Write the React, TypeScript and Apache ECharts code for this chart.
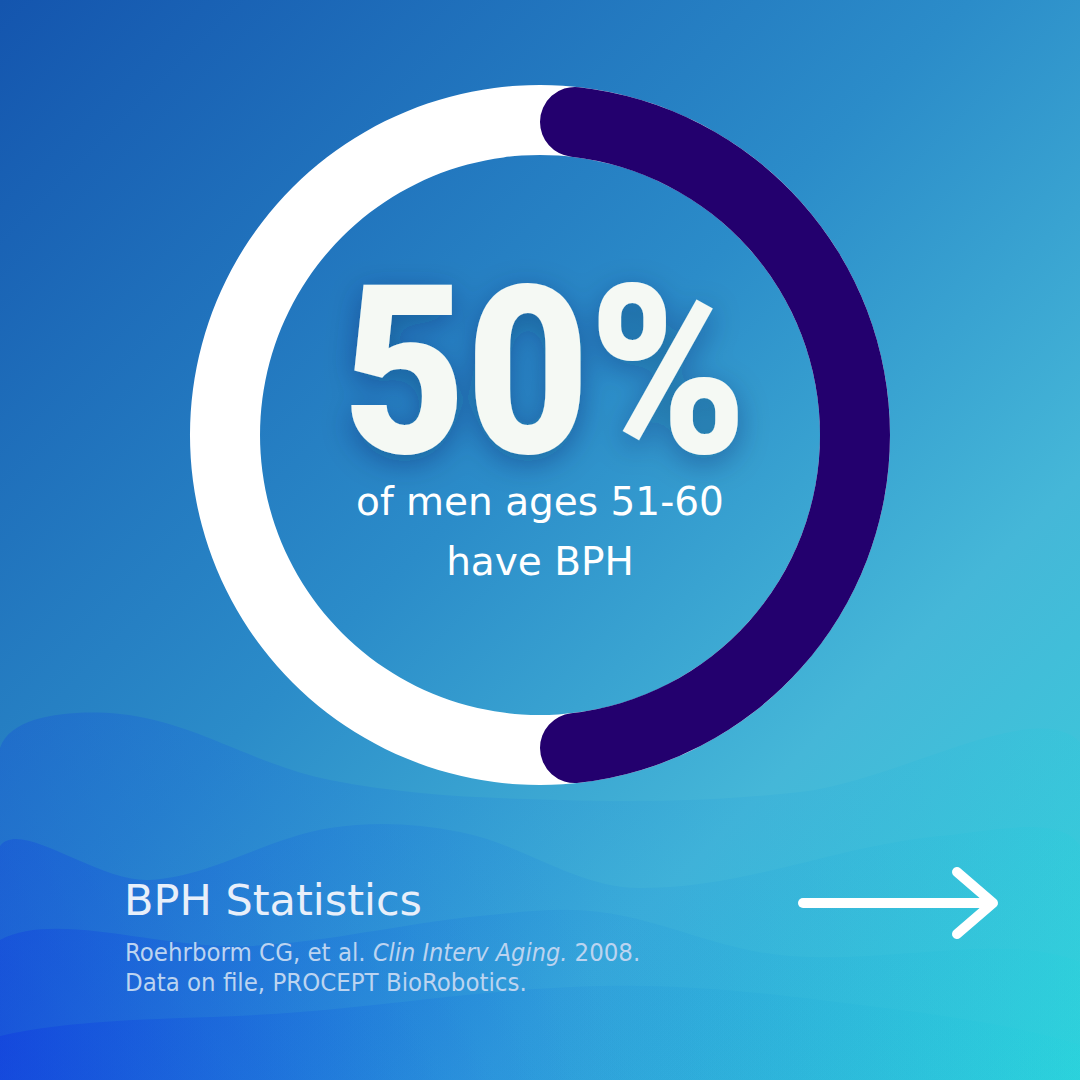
import React, { useEffect, useRef } from "react";
import * as echarts from "echarts";

const categories = ["Men ages 51-60 with BPH", "Men ages 51-60 without BPH"];
const values = [50, 50];
const headline = "50%";
const subLines = ["of men ages 51-60", "have BPH"];
const footerTitle = "BPH Statistics";
const citeLine1 = ["Roehrborm CG, et al. ", "Clin Interv Aging.", " 2008."];
const citeLine2 = "Data on file, PROCEPT BioRobotics.";

const waves: number[][][] = [
  [[0, 748], [120, 714], [330, 780], [560, 800], [800, 792], [1080, 742]],
  [[0, 846], [150, 880], [330, 828], [460, 832], [640, 888], [940, 836], [1080, 846]],
  [[0, 940], [250, 946], [480, 916], [600, 912], [780, 955], [1080, 962]],
  [[0, 1036], [300, 1012], [600, 986], [820, 1000], [1080, 1045]],
];

export default function App() {
  const ref = useRef<HTMLDivElement>(null);
  useEffect(() => {
    document.body.style.margin = "0";
    const chart = echarts.init(ref.current!, null, { renderer: "svg" });
    const waveEls = waves.map((pts, i) => ({
      type: "polygon",
      z: 1,
      shape: { points: [...pts, [1080, 1080], [0, 1080]], smooth: 0.35 },
      style: {
        fill: new echarts.graphic.LinearGradient(0, 0, 1, 0, [
          { offset: 0, color: `rgba(16,58,224,${0.28 + i * 0.07})` },
          { offset: 0.55, color: `rgba(22,130,222,0.13)` },
          { offset: 1, color: `rgba(30,215,220,0.14)` },
        ]),
      },
      silent: true,
    }));
    chart.setOption({
      animation: false,
      backgroundColor: new echarts.graphic.LinearGradient(0, 0, 1, 1, [
        { offset: 0, color: "#1455ae" },
        { offset: 0.45, color: "#2b8cc9" },
        { offset: 0.72, color: "#45b7d8" },
        { offset: 1, color: "#36d2dc" },
      ]),
      graphic: [
        ...waveEls,
        {
          type: "text",
          z: 10,
          x: 545,
          y: 373,
          scaleX: 0.9,
          style: {
            text: headline,
            font: '900 236px Roboto',
            lineHeight: 180,
            fill: "#f5f9f4",
            align: "center",
            verticalAlign: "middle",
            textShadowColor: "rgba(0,30,80,0.35)",
            textShadowBlur: 30,
            textShadowOffsetY: 8,
          },
        },
        ...subLines.map((t, i) => ({
          type: "text",
          z: 10,
          x: 540,
          y: 501 + i * 60,
          style: {
            text: t,
            font: '39px "DejaVu Sans"',
            lineHeight: 44,
            fill: "#ffffff",
            align: "center",
            verticalAlign: "middle",
          },
        })),
        {
          type: "text",
          z: 10,
          x: 124,
          y: 900,
          style: {
            text: footerTitle,
            font: '43px "DejaVu Sans"',
            fill: "#e8effa",
            align: "left",
            verticalAlign: "middle",
          },
        },
        {
          type: "text",
          z: 10,
          x: 125,
          y: 952,
          style: {
            text: `{n|${citeLine1[0]}}{i|${citeLine1[1]}}{n|${citeLine1[2]}}`,
            align: "left",
            verticalAlign: "middle",
            rich: {
              n: { font: '25.5px "DejaVu Sans Condensed"', fill: "#bcd4f0" },
              i: { font: 'italic 25px "DejaVu Sans Condensed"', fill: "#bcd4f0" },
            },
          },
        },
        {
          type: "text",
          z: 10,
          x: 125,
          y: 982,
          style: {
            text: citeLine2,
            font: '25.5px "DejaVu Sans Condensed"',
            fill: "#bcd4f0",
            align: "left",
            verticalAlign: "middle",
          },
        },
        {
          type: "polyline",
          z: 10,
          shape: { points: [[803, 903], [992, 903]] },
          style: { stroke: "#ffffff", lineWidth: 10, lineCap: "round" },
        },
        {
          type: "polyline",
          z: 10,
          shape: { points: [[957, 872], [993, 903], [957, 934]] },
          style: { stroke: "#ffffff", lineWidth: 10, lineCap: "round", lineJoin: "round", fill: null },
        },
      ],
      series: [
        {
          type: "pie",
          z: 3,
          center: [540, 435],
          radius: [280, 350],
          silent: true,
          label: { show: false },
          labelLine: { show: false },
          data: [{ name: "all", value: values[0] + values[1], itemStyle: { color: "#ffffff" } }],
        },
        {
          type: "pie",
          z: 4,
          center: [540, 435],
          radius: [280, 350],
          startAngle: 90,
          clockwise: true,
          silent: true,
          label: { show: false },
          labelLine: { show: false },
          data: [
            { name: categories[0], value: values[0], itemStyle: { color: "#23006e", borderRadius: 35 } },
            { name: categories[1], value: values[1], itemStyle: { color: "rgba(0,0,0,0)" } },
          ],
        },
      ],
    });
    return () => chart.dispose();
  }, []);
  return <div ref={ref} style={{ width: 1080, height: 1080 }} />;
}
